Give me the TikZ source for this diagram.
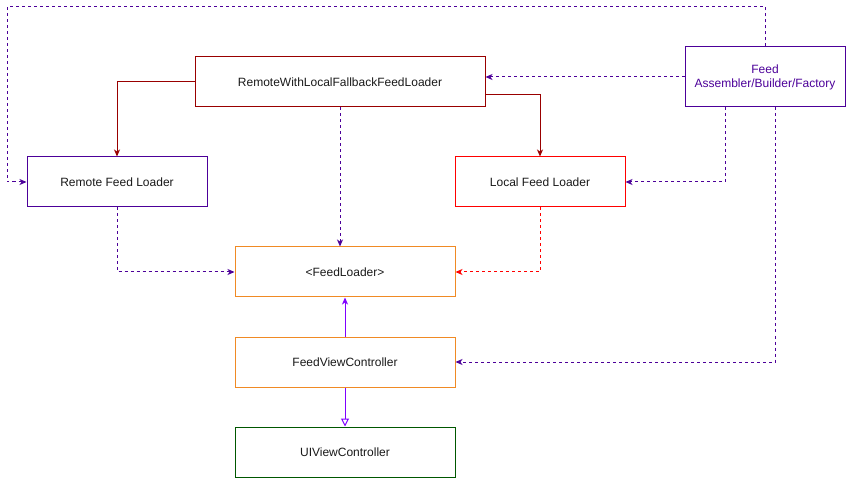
\documentclass[tikz,border=0pt]{standalone}
\usepackage{fontspec}
\setmainfont{Liberation Sans}
\usetikzlibrary{arrows.meta}
\definecolor{dpurple}{HTML}{4C0099}
\definecolor{violetl}{HTML}{7F00FF}
\definecolor{dred}{HTML}{990000}
\definecolor{bred}{HTML}{FF0000}
\definecolor{orng}{HTML}{F08A24}
\definecolor{dgreen}{HTML}{005700}
\begin{document}
\begin{tikzpicture}[x=1pt,y=-1pt,
  font=\fontsize{12}{14}\selectfont,
  box/.style={draw, line width=1pt, inner sep=0pt, align=center, text=black!90},
  tip/.style={-{Stealth[length=7pt,width=6pt,inset=2pt]}},
  redline/.style={draw=dred, line width=1pt, tip},
  pdash/.style={draw=dpurple, line width=1pt, dash pattern=on 3pt off 3pt, tip},
  rdash/.style={draw=bred, line width=1pt, dash pattern=on 3pt off 3pt, tip},
  vline/.style={draw=violetl, line width=1pt}]
\useasboundingbox (0,0) rectangle (846,478);
\node[box, draw=dred, minimum width=290pt, minimum height=50pt] (rwl) at (340,82) {RemoteWithLocalFallbackFeedLoader};
\node[box, draw=dpurple, text=dpurple, minimum width=160pt, minimum height=60pt] (feed) at (765,77) {Feed\\Assembler/Builder/Factory};
\node[box, draw=dpurple, minimum width=180pt, minimum height=50pt] (remote) at (117,182) {Remote Feed Loader};
\node[box, draw=bred, minimum width=170pt, minimum height=50pt] (local) at (540,182) {Local Feed Loader};
\node[box, draw=orng, minimum width=220pt, minimum height=50pt] (fl) at (345,272) {<FeedLoader>};
\node[box, draw=orng, minimum width=220pt, minimum height=50pt] (fvc) at (345,362) {FeedViewController};
\node[box, draw=dgreen, minimum width=220pt, minimum height=50pt] (ui) at (345,452) {UIViewController};
\coordinate (c1) at (7,7);
% red solid
\draw[redline] (rwl.west) -| (remote.north);
\draw[redline] ([yshift=-13pt]rwl.east) -| (local.north);
% purple dashed from Feed
\draw[pdash] (feed.west) -- ([yshift=5pt]rwl.east);
\draw[pdash] (feed.north) |- (c1) |- (remote.west);
\draw[pdash] ([xshift=-40pt]feed.south) |- (local.east);
\draw[pdash] ([xshift=10pt]feed.south) |- (fvc.east);
% to FeedLoader
\draw[pdash] (rwl.south) -- (rwl.south |- fl.north);
\draw[pdash] (remote.south) |- (fl.west);
\draw[rdash] (local.south) |- (fl.east);
% FVC
\draw[vline, tip] (fvc.north) -- (fl.south);
\draw[vline, -{Triangle[open,length=8pt,width=8pt]}] (fvc.south) -- (ui.north);
\end{tikzpicture}
\end{document}
